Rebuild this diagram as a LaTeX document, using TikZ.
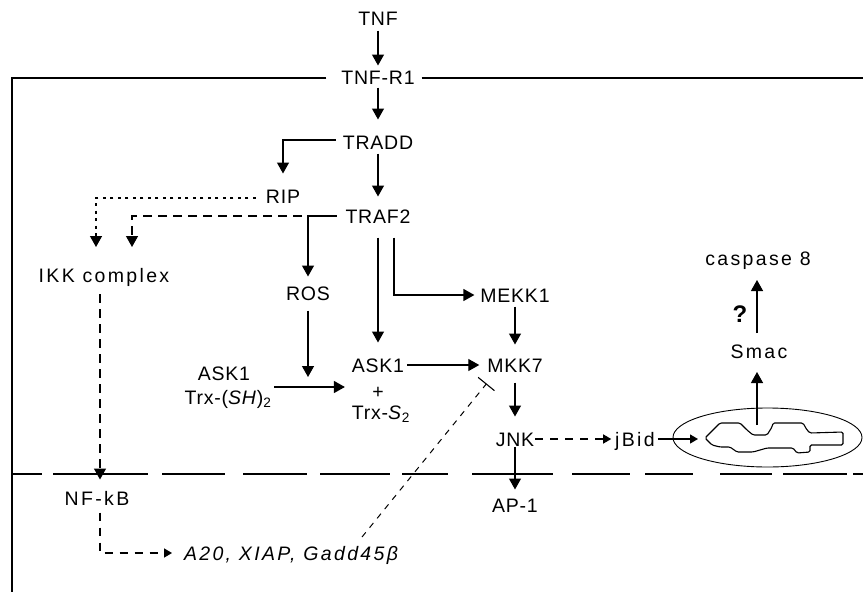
\documentclass[tikz,border=0pt]{standalone}
\usepackage{fontspec}
\setmainfont{Liberation Sans}[LetterSpace=4]
\usetikzlibrary{arrows.meta,calc}
\begin{document}
\begin{tikzpicture}[x=1pt,y=-1pt,
  lbl/.style={font=\fontsize{19.5}{23}\selectfont, inner sep=0pt, outer sep=0pt, text height=14pt, text depth=0pt},
  wide/.style={font=\fontsize{19.5}{23}\selectfont\addfontfeature{LetterSpace=12}},
  con/.style={line width=1.3pt},
  arr/.style={con, -{Triangle[length=11pt,width=12pt]}},
  sarr/.style={con, -{Triangle[length=8pt,width=9pt]}},
  dotarr/.style={arr, dash pattern=on 3pt off 4.5pt},
  dasharr/.style={arr, dash pattern=on 9pt off 6pt},
  sdasharr/.style={sarr, dash pattern=on 8pt off 7pt},
  inhib/.style={line width=1pt, dash pattern=on 6pt off 6pt},
  inhbar/.style={line width=1.1pt},
  memb/.style={line width=1.3pt},
  mito/.style={line width=0.9pt}]
\useasboundingbox (0,0) rectangle (863,592);

% nodes
\node[lbl] (TNF) at (378,18) {TNF};
\node[lbl] (TNFR1) at (378,77) {TNF-R1};
\node[lbl] (TRADD) at (378,142) {TRADD};
\node[lbl] (RIP) at (283,196) {RIP};
\node[lbl] (TRAF2) at (378,216) {TRAF2};
\node[lbl, wide] (IKK) at (104,275) {IKK complex};
\node[lbl] (ROS) at (308,293) {ROS};
\node[lbl] (MEKK1) at (515,295) {MEKK1};
\node[lbl] (ASK1) at (378,365) {ASK1};
\node[lbl] (plus) at (378,391) {+};
\node[lbl] (TRXS) at (381,412) {Trx-\textit{S}\textsubscript{2}};
\node[lbl] (MKK7) at (515,365) {MKK7};
\node[lbl] (ASKa) at (224,373) {ASK1};
\node[lbl] (ASKb) at (228,397) {Trx-(\textit{SH})\textsubscript{2}};
\node[lbl] (JNK) at (515,439) {JNK};
\node[lbl, wide] (jBid) at (635,439) {jBid};
\node[lbl] (AP1) at (515,505) {AP-1};
\node[lbl, wide] (NFkB) at (97,498) {NF-kB};
\node[lbl, font=\fontsize{19.5}{23}\selectfont\itshape\addfontfeature{LetterSpace=12}] (A20) at (291,553) {A20, XIAP, Gadd45β};
\node[lbl, wide] (Smac) at (759,351) {Smac};
\node[lbl, wide] (casp) at (758,258) {caspase 8};
\node[lbl, font=\fontsize{24}{28}\selectfont\bfseries, text height=17pt] (q) at (740,314) {?};

% cell outline
\coordinate (cBL) at (12,592);
\coordinate (cR) at (863,78);
\draw[con] ([xshift=-15pt,yshift=-1pt]TNFR1.west) -| (cBL);
\draw[con] ([xshift=7pt,yshift=-1pt]TNFR1.east) -- ([yshift=-1pt]TNFR1.east -| cR);

% nuclear membrane
\foreach \a/\b in {13/42,53/148,162/225,243/307,320/390,402/448,472/553,572/630,645/693,720/772,783/847,853/863}
  \draw[memb] (\a,474) -- (\b,474);

% mitochondrion
\draw[mito] (767.5,437.5) ellipse [x radius=94.5pt, y radius=29.5pt];
\draw[line width=1.1pt, rounded corners=1.5pt] (705,438) -- (720,423) -- (740,423) -- (747,430) -- (753,435) -- (767,435) -- (772,427) -- (773,423) -- (803,423) -- (807,430) -- (810,433) -- (843,432) -- (843,445) -- (810,445) -- (810,452) -- (797,453) -- (793,448) -- (767,448) -- (753,452) -- (737,452) -- (730,447) -- (720,447) -- (712,445) -- cycle;

% connectors
\draw[arr, shorten <=5.5pt, shorten >=4.5pt] (TNF.south) -- (TNFR1.north);
\draw[arr, shorten <=3.5pt, shorten >=15.5pt] (TNFR1.south) -- (TRADD.north);
\draw[arr, shorten <=7pt, shorten >=15.5pt] ([yshift=2pt]TRADD.west) -| (RIP.north);
\draw[arr, shorten <=4.5pt, shorten >=12.5pt] (TRADD.south) -- (TRAF2.north);
\draw[dotarr, shorten <=10pt] ([yshift=-2pt]RIP.west) -| ([xshift=-8pt,yshift=21pt]IKK.north);
\draw[arr, shorten <=9pt, shorten >=9.5pt] (TRAF2.west) -| (ROS.north);
\coordinate (trafbr) at ([xshift=-6pt]TRAF2.west -| ROS.north);
\draw[dasharr] (trafbr) -| ([xshift=28pt,yshift=21pt]IKK.north);
\draw[arr, shorten <=14.5pt, shorten >=15.5pt] (TRAF2.south) -- (ASK1.north);
\draw[arr, shorten <=14.5pt, shorten >=6pt] ([xshift=16pt]TRAF2.south) |- (MEKK1.west);
\coordinate (rosend) at (308,377);
\draw[arr, shorten <=10.5pt] (ROS.south) -- (rosend);
\coordinate (askin) at ([yshift=10pt]ASKb.east);
\draw[arr, shorten <=3pt, shorten >=7pt] (askin) -- (askin -| ASK1.west);
\draw[arr, shorten <=3pt, shorten >=8pt] (ASK1.east) -- (MKK7.west);
\draw[arr, shorten <=4.5pt, shorten >=13.5pt] (MEKK1.south) -- (MKK7.north);
\draw[arr, shorten <=10.5pt, shorten >=15.5pt] (MKK7.south) -- (JNK.north);
\draw[arr, shorten <=1pt, shorten >=8.5pt] (JNK.south) -- (AP1.north);
\draw[sdasharr, shorten <=1pt, shorten >=4pt] (JNK.east) -- (jBid.west);
\coordinate (mitoin) at (698,439);
\draw[sarr, shorten <=3pt] (jBid.east) -- (mitoin);
\coordinate (ikkb) at ([xshift=-4pt]IKK.south);
\draw[dasharr, shorten <=12pt, shorten >=11.5pt] (ikkb) -- (ikkb |- NFkB.north);
\coordinate (nfkbb) at ([xshift=3pt]NFkB.south);
\draw[sdasharr, shorten <=7.5pt, shorten >=12pt] (nfkbb) |- (A20.west);
\coordinate (inhS) at ([xshift=71pt,yshift=9pt]A20.north);
\coordinate (inhE) at ([xshift=-1pt,yshift=-12pt]MKK7.south west);
\draw[inhib] (inhS) -- (inhE);
\draw[inhbar] ($(inhE)!10.5pt!90:(inhS)$) -- ($(inhE)!10.5pt!-90:(inhS)$);
\coordinate (mitoout) at (757,425);
\draw[arr, shorten >=14pt] (mitoout) -- (mitoout |- Smac.south);
\draw[arr, shorten <=11pt, shorten >=15pt] (Smac.north -| mitoout) -- (mitoout |- casp.south);
\end{tikzpicture}
\end{document}
